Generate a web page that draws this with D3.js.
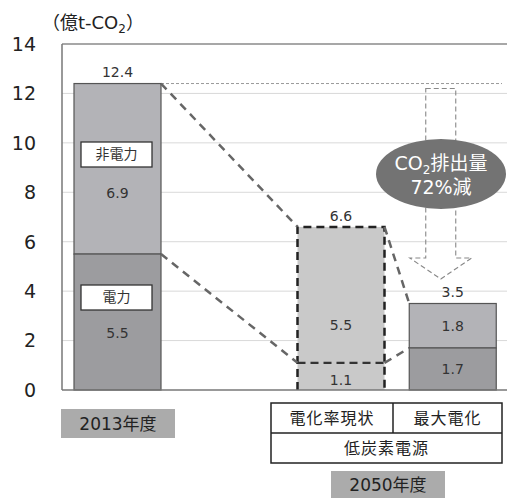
<!DOCTYPE html>
<html lang="ja">
<head>
<meta charset="UTF-8">
<title>CO2排出量</title>
<script src="https://cdn.jsdelivr.net/npm/d3@7"></script>
<style>
  body { margin: 0; background: #fff; }
  text { font-family: "DejaVu Sans", "Noto Sans CJK JP", sans-serif; }
</style>
</head>
<body>
<div id="chart"></div>
<script>
// data
const slots = ["2013年度", "", "電化率現状", "最大電化"];
const nonElec = [6.9, null, 5.5, 1.8];   // 非電力
const elec = [5.5, null, 1.1, 1.7];      // 電力
const totals = [12.4, null, 6.6, 3.5];
const yTicks = [0, 2, 4, 6, 8, 10, 12, 14];

const w = 507, h = 499;
const svg = d3.select("#chart").append("svg")
    .attr("width", w).attr("height", h);

const y = d3.scaleLinear().domain([0, 14]).range([390, 44]);
const x = d3.scalePoint().domain(slots).range([117.5, 452.75]);
const bw = 87;
const left = 62, right = 507;

// grid
svg.selectAll(".grid")
  .data(yTicks.filter(d => d > 0 && d < 14))
  .enter().append("line")
  .attr("x1", left).attr("x2", right)
  .attr("y1", d => y(d)).attr("y2", d => y(d))
  .attr("stroke", "#d9d9d9").attr("stroke-width", 1);

svg.append("line").attr("x1", left).attr("x2", right)
  .attr("y1", y(14)).attr("y2", y(14)).attr("stroke", "#8a8a8a").attr("stroke-width", 1.5);

// y axis labels
svg.selectAll(".ytick")
  .data(yTicks).enter().append("text")
  .attr("x", 36).attr("y", d => y(d))
  .attr("dy", "0.36em")
  .attr("text-anchor", "end")
  .attr("font-size", 19)
  .attr("fill", "#222")
  .text(d => d);

// axis title
const tt = svg.append("text").attr("x", 42).attr("y", 29)
  .attr("font-size", 18).attr("fill", "#222")
  .attr("font-family", "Noto Sans CJK JP");
tt.append("tspan").text("（億t-CO");
tt.append("tspan").attr("font-size", 12).attr("dy", 4).text("2");
tt.append("tspan").attr("dy", -4).text("）");

// dotted line at 2013 total
svg.append("line")
  .attr("x1", x(slots[0]) + bw / 2).attr("x2", 502)
  .attr("y1", y(totals[0])).attr("y2", y(totals[0]))
  .attr("stroke", "#999").attr("stroke-width", 1).attr("stroke-dasharray", "3,2");

// bar 2013
const x0 = x(slots[0]) - bw / 2;
svg.append("rect").attr("x", x0).attr("width", bw)
  .attr("y", y(totals[0])).attr("height", y(elec[0]) - y(totals[0]))
  .attr("fill", "#b3b3b7").attr("stroke", "#555").attr("stroke-width", 1.2);
svg.append("rect").attr("x", x0).attr("width", bw)
  .attr("y", y(elec[0])).attr("height", y(0) - y(elec[0]))
  .attr("fill", "#9c9c9f").attr("stroke", "#555").attr("stroke-width", 1.2);

// bar 最大電化
const x3 = x(slots[3]) - bw / 2;
svg.append("rect").attr("x", x3).attr("width", bw)
  .attr("y", y(totals[3])).attr("height", y(elec[3]) - y(totals[3]))
  .attr("fill", "#b3b3b7").attr("stroke", "#555").attr("stroke-width", 1.2);
svg.append("rect").attr("x", x3).attr("width", bw)
  .attr("y", y(elec[3])).attr("height", y(0) - y(elec[3]))
  .attr("fill", "#9c9c9f").attr("stroke", "#555").attr("stroke-width", 1.2);

// bar 電化率現状 (dashed)
const x2 = x(slots[2]) - bw / 2;
svg.append("rect").attr("x", x2).attr("width", bw)
  .attr("y", y(totals[2])).attr("height", y(0) - y(totals[2]))
  .attr("fill", "#c9c9c9");
const dash2 = "8,5";
svg.append("path")
  .attr("d", `M${x2},${y(0)}V${y(totals[2])}H${x2 + bw}V${y(0)}`)
  .attr("fill", "none").attr("stroke", "#222").attr("stroke-width", 2.5)
  .attr("stroke-dasharray", dash2);
svg.append("line").attr("x1", x2).attr("x2", x2 + bw)
  .attr("y1", y(elec[2])).attr("y2", y(elec[2]))
  .attr("stroke", "#333").attr("stroke-width", 2.2).attr("stroke-dasharray", dash2);

// connectors
const conn = [
  [x0 + bw, y(totals[0]), x2, y(totals[2])],
  [x0 + bw, y(elec[0]), x2, y(elec[2])],
  [x2 + bw, y(totals[2]), x3, y(totals[3])],
  [x2 + bw, y(elec[2]), x3, y(elec[3])]
];
svg.selectAll(".conn").data(conn).enter().append("line")
  .attr("x1", d => d[0]).attr("y1", d => d[1])
  .attr("x2", d => d[2]).attr("y2", d => d[3])
  .attr("stroke", "#666").attr("stroke-width", 2.5).attr("stroke-dasharray", "8,6");

// axes
svg.append("line").attr("x1", left).attr("x2", left).attr("y1", y(14)).attr("y2", y(0))
  .attr("stroke", "#777").attr("stroke-width", 1.5);
svg.append("line").attr("x1", left).attr("x2", right).attr("y1", y(0)).attr("y2", y(0))
  .attr("stroke", "#777").attr("stroke-width", 1.5);

// down arrow (dashed outline)
const ax = x(slots[3]) - 12, sw = 15;
svg.append("path")
  .attr("d", `M${ax - sw},${y(12.2)}H${ax + sw}V258H${ax + 31}L${ax},279L${ax - 31},258H${ax - sw}Z`)
  .attr("fill", "none").attr("stroke", "#888").attr("stroke-width", 1.1)
  .attr("stroke-dasharray", "5,3");

// ellipse
svg.append("ellipse").attr("cx", 441).attr("cy", 174).attr("rx", 65).attr("ry", 35)
  .attr("fill", "#737373");
const e1 = svg.append("text").attr("x", 441).attr("y", 170).attr("text-anchor", "middle")
  .attr("fill", "#fff").attr("font-size", 19).attr("font-family", "Noto Sans CJK JP");
e1.append("tspan").text("CO");
e1.append("tspan").attr("font-size", 12).attr("dy", 4).text("2");
e1.append("tspan").attr("dy", -4).text("排出量");
svg.append("text").attr("x", 441).attr("y", 194).attr("text-anchor", "middle")
  .attr("fill", "#fff").attr("font-size", 19).attr("font-family", "Noto Sans CJK JP")
  .text("72%減");

// value labels
const vlab = [];
[0, 2, 3].forEach(i => {
  vlab.push({x: x(slots[i]), y: y(totals[i]) - 11, t: totals[i].toFixed(1)});
});
vlab.push({x: x(slots[0]), y: 193, t: nonElec[0].toFixed(1)});
vlab.push({x: x(slots[0]), y: 333, t: elec[0].toFixed(1)});
vlab.push({x: x(slots[2]), y: y((totals[2] + elec[2]) / 2) + 30, t: nonElec[2].toFixed(1)});
vlab.push({x: x(slots[2]), y: y(elec[2] / 2) + 4, t: elec[2].toFixed(1)});
vlab.push({x: x(slots[3]), y: y((totals[3] + elec[3]) / 2), t: nonElec[3].toFixed(1)});
vlab.push({x: x(slots[3]), y: y(elec[3] / 2), t: elec[3].toFixed(1)});
svg.selectAll(".vl").data(vlab).enter().append("text")
  .attr("x", d => d.x).attr("y", d => d.y).attr("dy", "0.35em")
  .attr("text-anchor", "middle").attr("font-size", 14).attr("fill", "#333")
  .text(d => d.t);

// series label boxes
const boxes = [{t: "非電力", y: 142}, {t: "電力", y: 285}];
boxes.forEach(b => {
  svg.append("rect").attr("x", 81).attr("y", b.y).attr("width", 71).attr("height", 25)
    .attr("fill", "#fff").attr("stroke", "#333").attr("stroke-width", 1.3);
  svg.append("text").attr("x", 116.5).attr("y", b.y + 12.5).attr("dy", "0.35em")
    .attr("text-anchor", "middle").attr("font-size", 14).attr("fill", "#333")
    .attr("font-family", "Noto Sans CJK JP").text(b.t);
});

// category label 2013
svg.append("rect").attr("x", 61).attr("y", 409).attr("width", 114).attr("height", 29)
  .attr("fill", "#ababab");
svg.append("text").attr("x", 118).attr("y", 424).attr("dy", "0.35em")
  .attr("text-anchor", "middle").attr("font-size", 17).attr("fill", "#222")
  .text("2013年度");

// table for 2050
const tb = svg.append("g").attr("fill", "none").attr("stroke", "#222").attr("stroke-width", 1.5);
tb.append("rect").attr("x", 271).attr("y", 403).attr("width", 231).attr("height", 60);
tb.append("line").attr("x1", 271).attr("x2", 502).attr("y1", 433).attr("y2", 433);
tb.append("line").attr("x1", 393).attr("x2", 393).attr("y1", 403).attr("y2", 433);
const tcells = [
  {x: 332, y: 418, t: slots[2]},
  {x: 447.5, y: 418, t: slots[3]},
  {x: 386.5, y: 448, t: "低炭素電源"}
];
svg.selectAll(".tc").data(tcells).enter().append("text")
  .attr("x", d => d.x).attr("y", d => d.y).attr("dy", "0.35em")
  .attr("text-anchor", "middle").attr("font-size", 16).attr("fill", "#222")
  .attr("font-family", "Noto Sans CJK JP")
  .attr("letter-spacing", 1)
  .text(d => d.t);

svg.append("rect").attr("x", 331).attr("y", 471).attr("width", 114).attr("height", 27)
  .attr("fill", "#ababab");
svg.append("text").attr("x", 388).attr("y", 485).attr("dy", "0.35em")
  .attr("text-anchor", "middle").attr("font-size", 17).attr("fill", "#222")
  .text("2050年度");
</script>
</body>
</html>
